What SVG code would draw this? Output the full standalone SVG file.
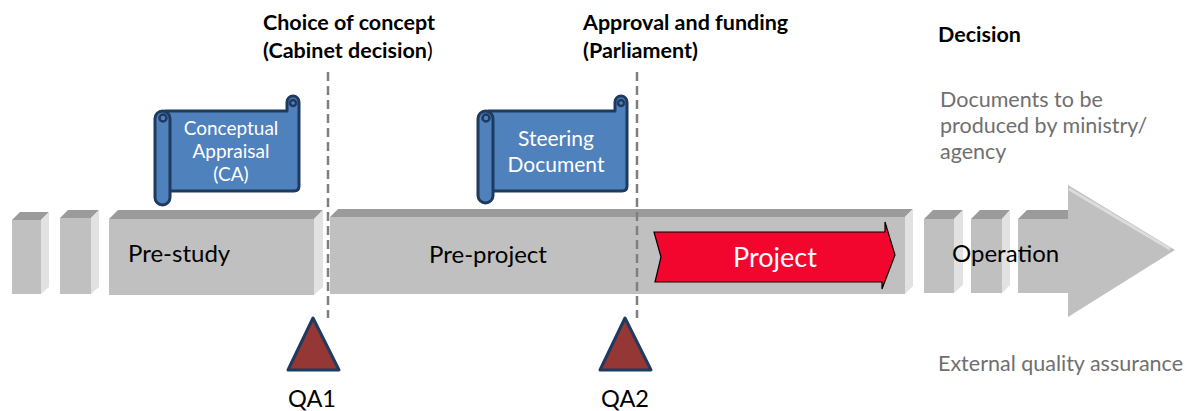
<svg xmlns="http://www.w3.org/2000/svg" width="1194" height="411" viewBox="0 0 1194 411">
  <style>
    text { font-family: Lato, "Open Sans", "Liberation Sans", sans-serif; }
    .front { fill: #c0c0c0; }
    .top { fill: #9b9b9b; }
    .side { fill: #e2e2e2; }
    .phase { font-size: 24px; fill: #000; }
    .head { font-size: 21.5px; font-weight: bold; fill: #000; }
    .note { font-size: 21.5px; fill: #6f6f6f; }
    .scroll { fill: #4f81bd; stroke: #1f3a5f; stroke-width: 3; stroke-linejoin: round; }
    .curl { fill: none; stroke: #1f3a5f; stroke-width: 2.5; }
    .scrolltext { fill: #fff; text-anchor: middle; }
    .gate { stroke: #7f7f7f; stroke-width: 2.5; stroke-dasharray: 9 5; fill: none; }
    .qa { fill: #953735; stroke: #1f3a5f; stroke-width: 3; stroke-linejoin: round; }
    .qatext { font-size: 23.5px; fill: #000; text-anchor: middle; }
  </style>

  <!-- Headings over the decision gates -->
  <g id="heading-concept">
    <text class="head" x="263" y="30">Choice of concept</text>
    <text class="head" x="263" y="58">(Cabinet decision<tspan font-weight="normal">)</tspan></text>
  </g>
  <g id="heading-approval">
    <text class="head" x="583" y="30">Approval and funding</text>
    <text class="head" x="583" y="58">(Parliament)</text>
  </g>
  <g id="legend">
    <text class="head" x="938" y="42">Decision</text>
    <text class="note" x="940" y="107">Documents to be</text>
    <text class="note" x="940" y="133">produced by ministry/</text>
    <text class="note" x="940" y="159">agency</text>
    <text class="note" x="938" y="371">External quality assurance</text>
  </g>

  <!-- Lead-in blocks -->
  <g id="lead-1">
    <rect class="front" x="12" y="220" width="29" height="74"/>
    <polygon class="top" points="12,220 20,212 49,212 41,220"/>
    <polygon class="side" points="41,220 49,212 49,287 41,294"/>
  </g>
  <g id="lead-2">
    <rect class="front" x="60" y="218" width="31" height="76"/>
    <polygon class="top" points="60,218 68,210 99,210 91,218"/>
    <polygon class="side" points="91,218 99,210 99,287 91,294"/>
  </g>

  <!-- Pre-study phase -->
  <g id="pre-study">
    <rect class="front" x="109" y="219" width="205" height="76"/>
    <polygon class="top" points="109,219 118,210 323,210 314,219"/>
    <polygon class="side" points="314,219 323,210 323,287 314,295"/>
    <text class="phase" x="128" y="262">Pre-study</text>
  </g>

  <!-- Pre-project phase -->
  <g id="pre-project">
    <rect class="front" x="330" y="217" width="575" height="77"/>
    <polygon class="top" points="330,217 338,209 913,209 905,217"/>
    <polygon class="side" points="905,217 913,209 913,286 905,294"/>
    <text class="phase" x="488" y="263" text-anchor="middle">Pre-project</text>
  </g>

  <!-- Project phase -->
  <g id="project">
    <polygon points="654,232 885,232 885,222 895,255 882,289 882,282 655,282 661,257" fill="#f2062e" stroke="#000" stroke-width="1.2"/>
    <text x="775" y="267" font-size="27" fill="#fff" text-anchor="middle">Project</text>
  </g>

  <!-- Operation phase -->
  <g id="operation">
    <rect class="front" x="924" y="219" width="30" height="74"/>
    <polygon class="top" points="924,219 933,210 963,210 954,219"/>
    <polygon class="side" points="954,219 963,210 963,285 954,293"/>
    <rect class="front" x="971" y="219" width="31" height="74"/>
    <polygon class="top" points="971,219 980,210 1010,210 1002,219"/>
    <polygon class="side" points="1002,219 1010,210 1010,285 1002,293"/>
    <polygon class="front" points="1018,219 1068,219 1068,185 1175,250 1068,317 1068,293 1018,293"/>
    <polygon class="top" points="1018,219 1027,210 1068,210 1068,219"/>
    <polyline points="1069,189 1170,249" fill="none" stroke="#dcdcdc" stroke-width="3"/>
    <text class="phase" x="952" y="262">Operation</text>
  </g>

  <!-- Documents produced in each phase -->
  <g id="doc-ca">
    <path class="scroll" d="M165,111 L287,111 L287,102 A6,6 0 0 1 299,102 L299,186 Q299,191 294,191 L165,191 Z"/>
    <circle class="curl" cx="293" cy="103" r="3"/>
    <rect class="scroll" x="155" y="111" width="15" height="94" rx="7.5"/>
    <circle class="curl" cx="163" cy="118" r="3.5"/>
    <text class="scrolltext" font-size="19" x="231" y="135">Conceptual</text>
    <text class="scrolltext" font-size="19" x="231" y="158">Appraisal</text>
    <text class="scrolltext" font-size="19" x="231" y="181">(CA)</text>
  </g>
  <g id="doc-steering">
    <path class="scroll" d="M488,111 L615,111 L615,102 A6,6 0 0 1 627,102 L627,186 Q627,191 622,191 L488,191 Z"/>
    <circle class="curl" cx="621" cy="103" r="3"/>
    <rect class="scroll" x="478" y="111" width="15" height="92" rx="7.5"/>
    <circle class="curl" cx="486" cy="118" r="3.5"/>
    <text class="scrolltext" font-size="21" x="556" y="146">Steering</text>
    <text class="scrolltext" font-size="21" x="556" y="172">Document</text>
  </g>

  <!-- Decision gates -->
  <g id="connectors">
    <line class="gate" x1="328" y1="72" x2="328" y2="318"/>
    <line class="gate" x1="637" y1="72" x2="637" y2="318"/>
  </g>

  <!-- Quality assurance milestones -->
  <g id="qa1">
    <polygon class="qa" points="313,318 339,370 288,370"/>
    <text class="qatext" x="312" y="407">QA1</text>
  </g>
  <g id="qa2">
    <polygon class="qa" points="625,318 651,370 600,370"/>
    <text class="qatext" x="625" y="407">QA2</text>
  </g>
</svg>
